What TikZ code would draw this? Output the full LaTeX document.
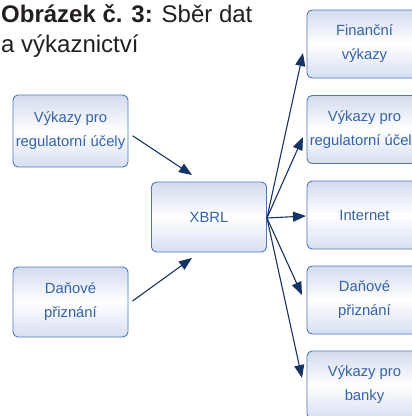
\documentclass[tikz,border=0pt]{standalone}
\usepackage{fontspec}
\setmainfont{Liberation Sans}
\usetikzlibrary{arrows.meta}
\definecolor{boxline}{HTML}{4C78B8}
\definecolor{boxtext}{HTML}{3563A6}
\definecolor{boxtop}{HTML}{D3DBEF}
\definecolor{boxbot}{HTML}{D6DEF0}
\definecolor{arrowc}{HTML}{163463}
\definecolor{titlec}{HTML}{231F20}
\tikzset{
  infobox/.style={draw=boxline, line width=0.9pt, rounded corners=5pt,
    top color=boxtop, bottom color=boxbot, middle color=white,
    minimum width=115pt, minimum height=70pt, inner sep=0pt,
    align=center, text=boxtext, font=\fontsize{14.8}{24}\selectfont},
  flow/.style={draw=arrowc, line width=1.1pt,
    -{Triangle[length=13pt,width=10pt]}},
  titletext/.style={anchor=base west, inner sep=0pt, text=titlec,
    font=\fontsize{24}{30}\selectfont}
}
\begin{document}
\begin{tikzpicture}[x=1pt,y=-1pt]
\useasboundingbox (0,0) rectangle (412,416);
\clip (0,0) rectangle (412,416);

% caption
\node[titletext] (cap1) at (1,22) {\textbf{Obrázek č. 3:} Sběr dat};
\node[titletext] (cap2) at (1,52) {a výkaznictví};

% sources
\node[infobox, minimum height=72pt] (src1) at (70.5,131) {Výkazy pro\\regulatorní účely};
\node[infobox] (src2) at (70.5,302) {Daňové\\přiznání};

% hub
\node[infobox] (hub) at (209,217) {XBRL};

% outputs
\node[infobox, minimum height=68pt] (out1) at (364.5,44)  {Finanční\\výkazy};
\node[infobox, minimum height=68pt] (out2) at (364.5,129.5) {Výkazy pro\\regulatorní účely};
\node[infobox, minimum height=68pt] (out3) at (364.5,215) {Internet};
\node[infobox, minimum height=68pt] (out4) at (364.5,300) {Daňové\\přiznání};
\node[infobox, minimum height=68pt] (out5) at (364.5,385) {Výkazy pro\\banky};

% arrow ends
\coordinate (in1) at (192,175);
\coordinate (in2) at (192,258);
\coordinate (t1) at (303,53);
\coordinate (t2) at (303,137);
\coordinate (t3) at (306,216);
\coordinate (t4) at (302,295);
\coordinate (t5) at (302,378);

% connectors
\draw[flow, shorten <=5pt] ([yshift=-2pt]src1.east) -- (in1);
\draw[flow, shorten <=5pt] ([yshift=-2pt]src2.east) -- (in2);
\foreach \t in {t1,t2,t3,t4,t5}
  \draw[flow] ([yshift=-1pt]hub.east) -- (\t);
\end{tikzpicture}
\end{document}
